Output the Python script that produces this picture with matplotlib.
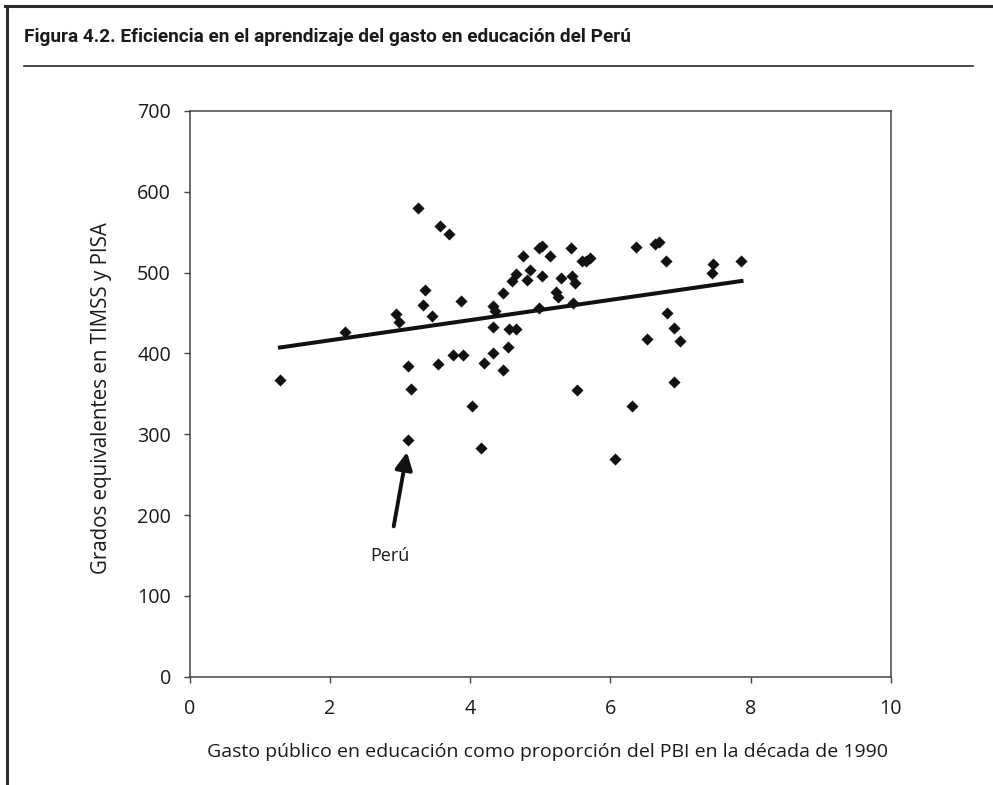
import matplotlib
matplotlib.use('Agg')
import matplotlib.pyplot as plt
from matplotlib.lines import Line2D

# gasto publico en educacion (% PBI) y puntaje equivalente
gasto = [1.29, 2.22, 2.94, 2.98, 3.12, 3.12, 3.15, 3.25, 3.33, 3.36,
         3.46, 3.54, 3.57, 3.70, 3.75, 3.87, 3.90, 4.02, 4.15, 4.20,
         4.32, 4.33, 4.33, 4.36, 4.47, 4.47, 4.54, 4.56, 4.60, 4.65,
         4.66, 4.75, 4.81, 4.86, 4.98, 4.99, 5.02, 5.03, 5.14, 5.23,
         5.26, 5.29, 5.44, 5.46, 5.47, 5.50, 5.53, 5.59, 5.65, 5.71,
         6.07, 6.31, 6.37, 6.52, 6.64, 6.70, 6.79, 6.81, 6.91, 6.91,
         6.99, 7.45, 7.47, 7.87]
puntaje = [367, 426, 449, 439, 385, 293, 356, 580, 460, 478,
           446, 387, 558, 548, 398, 465, 398, 335, 283, 388,
           400, 459, 433, 453, 475, 380, 408, 430, 490, 498,
           430, 520, 491, 503, 456, 531, 496, 533, 520, 476,
           470, 493, 530, 496, 463, 487, 355, 515, 515, 518,
           270, 335, 532, 418, 535, 538, 515, 450, 432, 365,
           415, 500, 511, 515]

# linea de tendencia (extremos)
tend_x = [1.26, 7.90]
tend_y = [407, 490]

peru_punto = (3.10, 278)
peru_cola = (2.91, 186)
peru_texto = (2.85, 149)

titulo = 'Figura 4.2. Eficiencia en el aprendizaje del gasto en educación del Perú'
xlab = 'Gasto público en educación como proporción del PBI en la década de 1990'
ylab = 'Grados equivalentes en TIMSS y PISA'

plt.rcParams['font.family'] = ['Open Sans', 'DejaVu Sans']

W, H = 993, 785
fig = plt.figure(figsize=(W / 100, H / 100), dpi=100)
fig.patch.set_facecolor('white')

# marco de la figura: borde superior e izquierdo
fig.add_artist(Line2D([5 / W, 991 / W], [1 - 6 / H, 1 - 6 / H], color='#2b2b2b', lw=2.2))
fig.add_artist(Line2D([7 / W, 7 / W], [0, 1 - 6 / H], color='#2b2b2b', lw=2.2))
# separador bajo el titulo
fig.add_artist(Line2D([24 / W, 973 / W], [1 - 66 / H, 1 - 66 / H], color='#2b2b2b', lw=1.2))

fig.text(24 / W, 1 - 37 / H, titulo, ha='left', va='center', fontsize=13.7,
         fontweight='bold', family=['Roboto', 'DejaVu Sans'], color='#1a1a1a')

ax = fig.add_axes([189.7 / W, (H - 676.7) / H, 701 / W, 565.7 / H])
ax.scatter(gasto, puntaje, marker='D', s=38, color='#111111', linewidths=0, zorder=3)
ax.plot(tend_x, tend_y, color='#111111', lw=2.9, solid_capstyle='butt', zorder=2)

ax.annotate('', xy=peru_punto, xytext=peru_cola,
            arrowprops=dict(arrowstyle='-|>', lw=2.8, color='#111111',
                            mutation_scale=26, shrinkA=0, shrinkB=0))
ax.text(peru_texto[0], peru_texto[1], 'Perú', ha='center', va='center',
        fontsize=13, color='#1a1a1a')

ax.set_xlim(0, 10)
ax.set_ylim(0, 700)
ax.set_xticks(range(0, 11, 2))
ax.set_yticks(range(0, 701, 100))

for s in ax.spines.values():
    s.set_color('#444444')
    s.set_linewidth(1.1)

ax.tick_params(direction='out', length=4.5, width=1, color='#444444',
               labelsize=14.2, labelcolor='#1a1a1a')
ax.tick_params(axis='x', pad=11.5)
ax.tick_params(axis='y', pad=9)

ax.set_xlabel(xlab, fontsize=14, color='#1a1a1a', va='center')
ax.xaxis.set_label_coords(0.51, -0.133)
ax.set_ylabel(ylab, fontsize=14.8, color='#1a1a1a', va='center', ha='center')
ax.yaxis.set_label_coords(-0.1265, 0.4927)

fig.savefig('out.png', dpi=100)
